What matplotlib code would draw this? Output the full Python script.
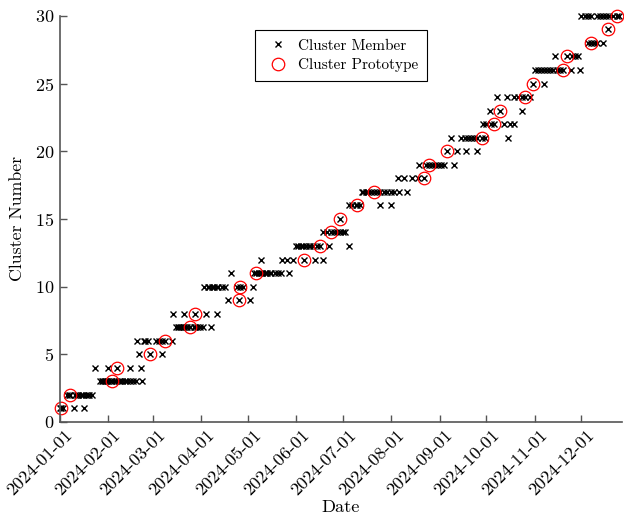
import numpy as np
import matplotlib
matplotlib.use("Agg")
import matplotlib.pyplot as plt
import matplotlib.dates as mdates
import matplotlib.transforms as mtransforms

plt.rcParams['font.family'] = ['cmr10', 'DejaVu Serif']
plt.rcParams['mathtext.fontset'] = 'cm'
plt.rcParams['axes.formatter.use_mathtext'] = True

start = np.datetime64('2024-01-01')

# day offsets from 2024-01-01, one list per cluster (cluster 1..30)
member_days = [
    [0, 1, 2, 9, 16],
    [5, 6, 7, 10, 11, 12, 14, 15, 17, 18, 19, 21],
    [26, 27, 28, 29, 30, 31, 33, 34, 35, 36, 38, 39, 40, 42, 43, 45, 47, 49, 53],
    [23, 31, 37, 45, 52],
    [51, 58, 66],
    [50, 54, 55, 57, 62, 64, 66, 68, 72],
    [75, 76, 77, 78, 79, 80, 81, 82, 84, 86, 87, 88, 90, 92, 97],
    [73, 80, 87, 94, 101],
    [108, 115, 122],
    [93, 95, 96, 98, 99, 101, 102, 104, 106, 114, 116, 118, 124],
    [110, 125, 126, 128, 129, 130, 132, 133, 135, 136, 138, 140, 142, 147],
    [129, 143, 146, 150, 157, 164, 169],
    [152, 153, 155, 156, 158, 160, 161, 163, 165, 167, 173, 186],
    [169, 172, 174, 176, 178, 180, 182, 183],
    [180],
    [186, 188, 190, 191, 193, 206, 213],
    [194, 195, 197, 198, 200, 202, 204, 206, 208, 210, 213, 215, 218, 223],
    [217, 221, 226, 230, 234],
    [231, 235, 237, 239, 241, 243, 245, 247, 253],
    [249, 255, 261, 268],
    [251, 258, 260, 262, 264, 266, 268, 271, 273, 288],
    [272, 274, 277, 279, 285, 289, 292],
    [276, 283, 297],
    [281, 287, 292, 294, 297, 299, 302],
    [304, 311],
    [305, 307, 309, 311, 313, 315, 317, 319, 321, 323, 328, 334],
    [318, 326, 329, 331, 333],
    [339, 341, 343, 345, 349],
    [352],
    [335, 337, 339, 341, 345, 347, 349, 351, 353, 355, 358, 359],
]
prototype_days = [1, 7, 34, 37, 58, 68, 84, 87, 115, 116, 126, 157, 167, 174, 180,
                  191, 202, 234, 237, 249, 271, 279, 283, 299, 304, 323, 326, 341, 352, 358]
cluster_ids = list(range(1, 31))

mem_x, mem_y = [], []
for cid, days in zip(cluster_ids, member_days):
    for d in days:
        mem_x.append(start + np.timedelta64(d, 'D'))
        mem_y.append(cid)
mem_x = np.array(mem_x, dtype='datetime64[D]')
proto_x = start + np.array(prototype_days, dtype='timedelta64[D]')

fig = plt.figure(figsize=(6.24, 5.2), dpi=100)
ax = fig.add_axes([0.0954, 0.1885, 0.9013, 0.781])

ax.plot(mem_x, mem_y, 'x', color='k', ms=4, mew=1.0, label='Cluster Member', clip_on=False)
ax.plot(proto_x, cluster_ids, 'o', mfc='none', mec='r', ms=9, mew=0.9,
        label='Cluster Prototype', clip_on=False)

ax.set_xlim(start, start + np.timedelta64(361, 'D'))
ax.set_ylim(0, 30)
ax.set_yticks(range(0, 31, 5))
ax.xaxis.set_major_locator(mdates.MonthLocator())
ax.xaxis.set_major_formatter(mdates.DateFormatter('%Y-%m-%d'))

for s in ['top', 'right']:
    ax.spines[s].set_visible(False)
for s in ['left', 'bottom']:
    ax.spines[s].set_color('#555555')
    ax.spines[s].set_linewidth(1.2)
ax.tick_params(direction='in', length=5, width=1, color='#555555', labelsize=13, pad=4)
ax.tick_params(axis='x', labelsize=13.1)

shift = mtransforms.ScaledTranslation(5 / 100, 0, fig.dpi_scale_trans)
for lbl in ax.get_xticklabels():
    lbl.set_rotation(45)
    lbl.set_ha('right')
    lbl.set_rotation_mode('anchor')
    lbl.set_transform(lbl.get_transform() + shift)

ax.set_xlabel('Date', fontsize=13.2)
ax.xaxis.set_label_coords(0.5, -0.192)
ax.set_ylabel('Cluster Number', fontsize=12.8)
ax.yaxis.set_label_coords(-0.062, 0.5)

leg = ax.legend(loc='upper left', bbox_to_anchor=(0.3476, 0.9655), borderaxespad=0,
                fontsize=11, fancybox=False, edgecolor='k', framealpha=1,
                borderpad=0.6, labelspacing=0.35, handlelength=1.8, handletextpad=0.4)
leg.get_frame().set_linewidth(0.8)

fig.savefig('out.png', dpi=100)
